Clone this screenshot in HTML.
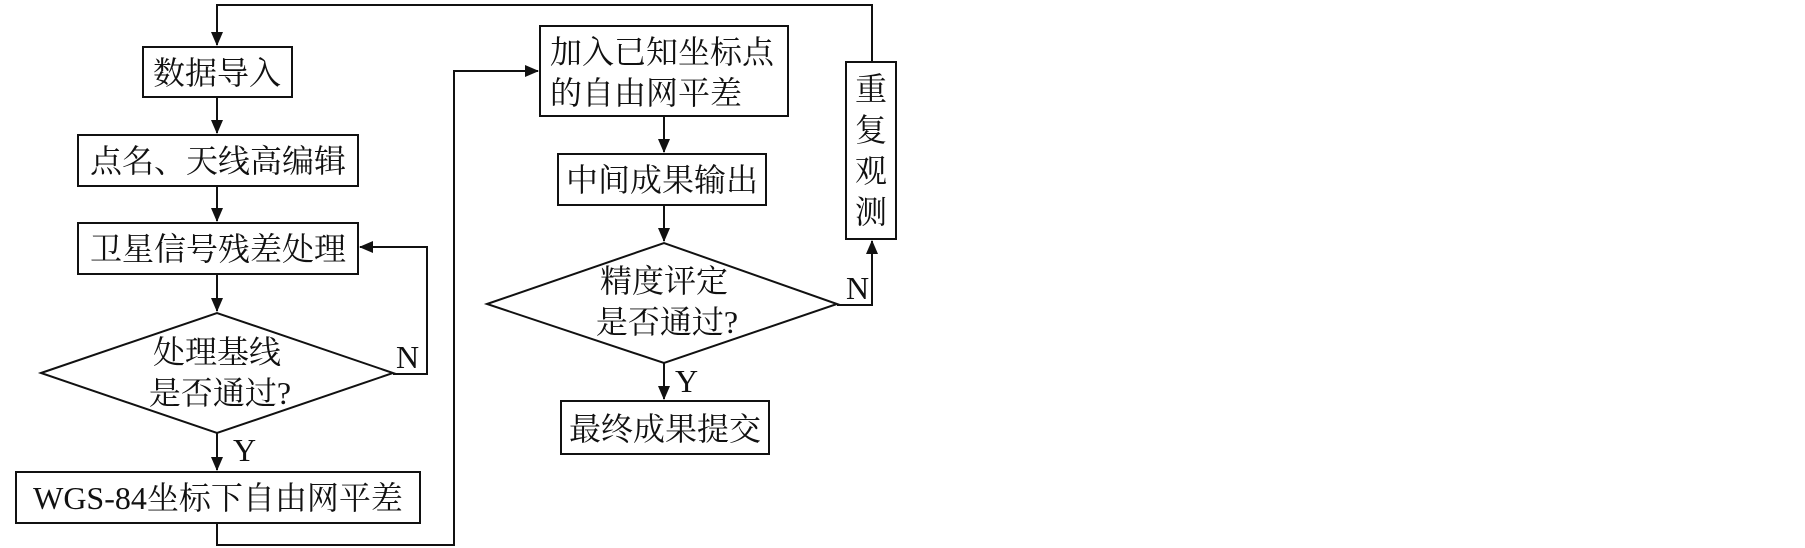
<!DOCTYPE html>
<html><head><meta charset="utf-8"><style>
html,body{margin:0;padding:0;background:#fff;width:1805px;height:548px;overflow:hidden}
text{font-family:"Liberation Serif","Noto Serif CJK SC",serif;font-size:32px;fill:#111}
</style></head><body>
<svg width="1805" height="548" xmlns="http://www.w3.org/2000/svg">
<defs><marker id="a" markerWidth="14" markerHeight="12" refX="13" refY="6" orient="auto" markerUnits="userSpaceOnUse"><path d="M0,0 L14,6 L0,12 z" fill="#111"/></marker></defs>
<g fill="none" stroke="#111" stroke-width="2">
<rect x="143" y="47" width="149" height="50"/>
<rect x="78" y="135" width="280" height="51"/>
<rect x="78" y="223" width="280" height="51"/>
<polygon points="41,373 217,313 393,373 217,433"/>
<rect x="16" y="472" width="404" height="51"/>
<rect x="540" y="26" width="248" height="90"/>
<rect x="558" y="154" width="208" height="51"/>
<polygon points="487,304 664,243 837,304 664,363"/>
<rect x="561" y="401" width="208" height="53"/>
<rect x="846" y="62" width="50" height="177"/>
<path d="M217,97 V133" marker-end="url(#a)"/>
<path d="M217,186 V221" marker-end="url(#a)"/>
<path d="M217,274 V311" marker-end="url(#a)"/>
<path d="M217,433 V470" marker-end="url(#a)"/>
<path d="M393,374 H427 V247 H360" marker-end="url(#a)"/>
<path d="M217,523 V545 H454 V71 H538" marker-end="url(#a)"/>
<path d="M664,116 V152" marker-end="url(#a)"/>
<path d="M664,205 V241" marker-end="url(#a)"/>
<path d="M664,363 V399" marker-end="url(#a)"/>
<path d="M837,305 H872 V241" marker-end="url(#a)"/>
<path d="M872,62 V5 H217 V45" marker-end="url(#a)"/>
</g>
<text x="217" y="84" text-anchor="middle">数据导入</text>
<text x="218" y="172" text-anchor="middle">点名、天线高编辑</text>
<text x="218" y="260" text-anchor="middle">卫星信号残差处理</text>
<text x="217" y="363" text-anchor="middle">处理基线</text>
<text x="220" y="404" text-anchor="middle">是否通过?</text>
<text x="218" y="509" text-anchor="middle">WGS-84坐标下自由网平差</text>
<text x="550" y="63">加入已知坐标点</text>
<text x="550" y="104">的自由网平差</text>
<text x="662" y="191" text-anchor="middle">中间成果输出</text>
<text x="664" y="292" text-anchor="middle">精度评定</text>
<text x="667" y="333" text-anchor="middle">是否通过?</text>
<text x="665" y="440" text-anchor="middle">最终成果提交</text>
<text x="871" y="100" text-anchor="middle">重</text>
<text x="871" y="141" text-anchor="middle">复</text>
<text x="871" y="182" text-anchor="middle">观</text>
<text x="871" y="223" text-anchor="middle">测</text>
<text x="396" y="368">N</text>
<text x="846" y="299">N</text>
<text x="233" y="461">Y</text>
<text x="675" y="392">Y</text>
</svg>
</body></html>
